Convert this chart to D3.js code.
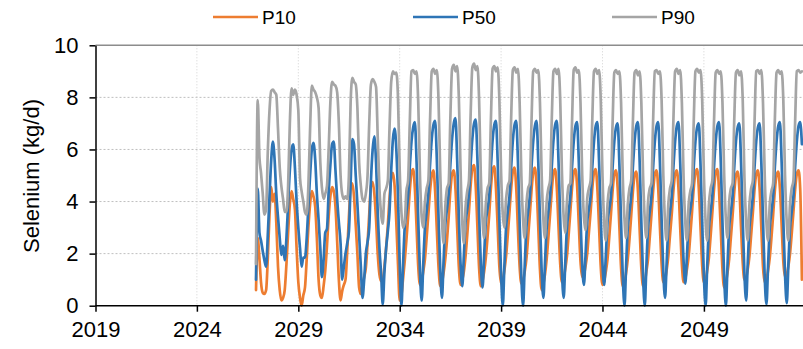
<!DOCTYPE html>
<html><head><meta charset="utf-8">
<script src="https://cdn.jsdelivr.net/npm/d3@7"></script>
<style>
body{margin:0;background:#fff}
svg{display:block}
text{font-family:"Liberation Sans",Arial,sans-serif;fill:#000}
</style>
</head><body>
<svg id="chart" width="803" height="349"></svg>
<script>
// ---- data (monthly, first value = Dec 2026) ----
const seriesNames = ["P10", "P50", "P90"];
const startYear = 2026, startMonth = 11;
const p10 = [
  0.6,
  2.6, 1.8, 0.9, 0.5, 0.45, 0.6, 1.8, 3.5, 4.55, 4.0, 4.3, 3.2,
  1.5, 0.6, 0.2, 0.3, 0.6, 1.6, 2.8, 3.9, 4.4, 4.1, 3.7, 2.2,
  0.9, 0.3, 0.0, 0.4, 0.7, 1.8, 3.0, 3.9, 4.4, 4.2, 3.8, 2.6,
  1.0, 0.4, 0.3, 0.75, 1.35, 2.3, 3.4, 4.2, 4.55, 4.4, 3.8, 2.5,
  1.0, 0.2, 0.55, 0.8, 1.0, 2.1, 3.4, 4.5, 4.7, 4.2, 3.1, 2.0,
  0.7, 0.45, 0.8, 1.1, 1.45, 2.4, 3.5, 4.6, 4.75, 4.3, 3.3, 2.0,
  1.2, 0.95, 1.0, 1.5, 2.2, 3.1, 4.1, 4.9, 5.1, 4.6, 3.2, 1.6,
  0.2, 0.4, 1.0, 1.7, 2.5, 3.4, 4.4, 5.1, 5.25, 4.5, 3.0, 1.5,
  0.8, 0.95, 1.3, 1.8, 2.6, 3.5, 4.4, 5.0, 5.2, 4.4, 2.9, 1.5,
  0.75, 0.9, 1.25, 1.8, 2.5, 3.4, 4.4, 5.05, 5.2, 4.5, 3.0, 1.5,
  0.8, 1.0, 1.3, 1.9, 2.7, 3.6, 4.6, 5.25, 5.4, 4.6, 3.0, 1.45,
  0.75, 0.95, 1.3, 1.85, 2.6, 3.5, 4.5, 5.2, 5.35, 4.5, 3.0, 1.5,
  0.85, 1.0, 1.35, 1.9, 2.7, 3.6, 4.5, 5.15, 5.3, 4.5, 2.9, 1.5,
  0.85, 1.0, 1.3, 1.8, 2.6, 3.5, 4.4, 5.1, 5.3, 4.6, 3.0, 1.4,
  0.6, 0.85, 1.2, 1.8, 2.6, 3.5, 4.4, 5.1, 5.25, 4.5, 3.0, 1.6,
  0.9, 1.05, 1.4, 1.9, 2.7, 3.6, 4.5, 5.1, 5.25, 4.6, 3.1, 1.7,
  1.1, 1.2, 1.5, 2.0, 2.8, 3.6, 4.5, 5.1, 5.25, 4.5, 3.0, 1.5,
  0.8, 0.95, 1.3, 1.8, 2.6, 3.5, 4.4, 5.05, 5.2, 4.5, 3.0, 1.45,
  0.75, 0.9, 1.25, 1.8, 2.55, 3.45, 4.35, 5.0, 5.15, 4.4, 2.9, 1.45,
  0.75, 0.9, 1.3, 1.8, 2.6, 3.5, 4.4, 5.05, 5.2, 4.5, 3.0, 1.6,
  0.9, 1.0, 1.35, 1.9, 2.7, 3.5, 4.4, 5.05, 5.2, 4.5, 3.0, 1.6,
  0.9, 1.05, 1.4, 1.9, 2.7, 3.6, 4.5, 5.1, 5.25, 4.5, 3.0, 1.55,
  0.9, 1.0, 1.35, 1.85, 2.65, 3.55, 4.45, 5.1, 5.25, 4.4, 2.9, 1.4,
  0.7, 0.9, 1.25, 1.8, 2.6, 3.45, 4.35, 5.0, 5.15, 4.5, 3.0, 1.65,
  1.0, 1.1, 1.4, 1.9, 2.7, 3.55, 4.45, 5.05, 5.2, 4.5, 3.0, 1.5,
  0.9, 1.0, 1.35, 1.85, 2.6, 3.5, 4.4, 5.0, 5.15, 4.5, 3.1, 1.7,
  1.1, 1.2, 1.5, 2.0, 2.75, 3.6, 4.45, 5.05, 5.2, 4.5, 1.0
];
const p50 = [
  1.0,
  4.5, 2.8, 2.5, 2.1, 1.75, 1.5, 2.7, 4.2, 5.6, 6.3, 5.6, 4.3,
  3.4, 2.6, 1.95, 2.3, 1.75, 2.6, 3.9, 5.2, 6.0, 6.2, 5.3, 4.0,
  3.0, 2.2, 1.5, 1.85, 1.85, 2.6, 3.8, 5.0, 6.0, 6.25, 5.6, 4.3,
  3.3, 2.2, 1.1, 1.75, 2.8, 2.95, 4.35, 5.4, 6.2, 6.3, 5.2, 4.1,
  3.2, 2.4, 1.0, 1.5, 2.0, 2.4, 2.85, 4.7, 6.4, 6.2, 5.0, 3.9,
  2.7, 1.5, 0.3, 1.0, 2.0, 2.45, 3.0, 4.8, 6.0, 6.5, 5.5, 3.6,
  2.2, 1.2, 0.05, 1.3, 2.2, 2.85, 3.6, 5.2, 6.4, 6.8, 6.0, 4.2,
  1.6, 0.0, 1.5, 3.0, 3.6, 4.2, 5.3, 6.3, 6.85, 7.05, 5.5, 3.3,
  1.3, 0.2, 1.6, 3.0, 3.6, 4.3, 5.4, 6.4, 6.95, 7.1, 5.6, 3.4,
  1.4, 0.3, 1.7, 3.1, 3.7, 4.3, 5.4, 6.4, 7.0, 7.2, 5.6, 3.4,
  1.6, 0.75, 1.9, 3.2, 3.7, 4.3, 5.4, 6.4, 7.0, 7.15, 5.6, 3.5,
  1.6, 0.7, 1.9, 3.2, 3.7, 4.2, 5.3, 6.35, 6.95, 7.1, 5.5, 3.3,
  1.2, 0.0, 1.5, 3.0, 3.6, 4.2, 5.3, 6.35, 6.95, 7.1, 5.5, 3.2,
  1.1, 0.0, 1.5, 3.0, 3.6, 4.2, 5.3, 6.3, 6.9, 7.1, 5.5, 3.3,
  1.3, 0.3, 1.6, 3.0, 3.6, 4.2, 5.3, 6.35, 6.95, 7.1, 5.5, 3.3,
  1.3, 0.3, 1.6, 3.0, 3.6, 4.2, 5.3, 6.3, 6.9, 7.05, 5.5, 3.4,
  1.6, 0.8, 1.9, 3.2, 3.7, 4.2, 5.3, 6.3, 6.9, 7.05, 5.5, 3.4,
  1.6, 0.8, 1.9, 3.2, 3.7, 4.2, 5.3, 6.3, 6.85, 7.0, 5.4, 3.2,
  1.1, 0.0, 1.5, 3.0, 3.6, 4.2, 5.3, 6.3, 6.9, 7.05, 5.5, 3.2,
  1.1, 0.0, 1.5, 3.0, 3.6, 4.2, 5.3, 6.3, 6.9, 7.05, 5.5, 3.3,
  1.3, 0.3, 1.6, 3.0, 3.6, 4.2, 5.3, 6.3, 6.9, 7.05, 5.5, 3.4,
  1.7, 0.85, 1.9, 3.2, 3.7, 4.2, 5.3, 6.3, 6.85, 7.0, 5.4, 3.2,
  1.1, 0.0, 1.5, 3.0, 3.6, 4.2, 5.3, 6.3, 6.9, 7.05, 5.5, 3.2,
  1.1, 0.0, 1.5, 3.0, 3.6, 4.2, 5.3, 6.3, 6.85, 7.0, 5.5, 3.3,
  1.2, 0.2, 1.6, 3.0, 3.6, 4.2, 5.3, 6.3, 6.85, 7.0, 5.5, 3.3,
  1.1, 0.05, 1.5, 3.0, 3.6, 4.2, 5.3, 6.3, 6.9, 7.05, 5.5, 3.3,
  1.2, 0.1, 1.5, 3.0, 3.6, 4.2, 5.3, 6.3, 6.9, 7.05, 6.2
];
const p90 = [
  1.6,
  7.9, 5.7, 5.1, 4.3, 3.5, 3.7, 5.9, 7.5, 8.25, 8.3, 8.2, 8.1,
  6.8, 5.3, 4.6, 4.1, 3.6, 3.6, 4.6, 7.0, 8.35, 8.1, 8.3, 8.1,
  7.5, 4.9, 4.4, 4.0, 3.6, 3.5, 4.6, 6.8, 8.45, 8.3, 8.2, 8.0,
  7.6, 5.5, 4.55, 4.1, 4.3, 4.6, 6.0, 7.8, 8.6, 8.5, 8.45, 8.2,
  7.0, 5.0, 4.3, 4.1, 4.2, 4.1, 5.0, 7.8, 8.75, 8.6, 8.5, 7.6,
  5.5, 4.6, 4.1, 4.0, 4.3, 5.0, 7.0, 8.5, 8.7, 8.6, 8.4, 6.5,
  4.5, 3.5, 3.15, 4.3, 4.5, 4.8, 6.8, 8.6, 9.0, 8.9, 8.95, 8.0,
  5.2, 3.6, 3.0, 3.2, 4.4, 4.8, 7.0, 9.0, 9.05, 8.9, 9.0, 7.8,
  5.0, 3.4, 3.0, 4.0, 4.5, 4.8, 7.1, 9.0, 9.1, 8.9, 9.05, 7.9,
  5.1, 3.3, 2.4, 3.8, 4.5, 4.7, 7.2, 9.1, 9.25, 9.0, 9.2, 8.0,
  5.2, 3.2, 2.4, 3.8, 4.4, 4.8, 7.3, 9.15, 9.3, 9.05, 9.2, 7.9,
  5.0, 3.3, 2.6, 3.9, 4.5, 4.7, 7.1, 9.1, 9.2, 9.0, 9.15, 7.9,
  5.1, 3.5, 3.0, 4.1, 4.6, 4.8, 7.2, 9.05, 9.15, 8.95, 9.1, 7.8,
  5.0, 3.3, 2.6, 3.9, 4.5, 4.7, 7.0, 9.0, 9.1, 8.95, 9.05, 7.8,
  5.0, 3.3, 2.6, 4.0, 4.5, 4.8, 7.1, 9.0, 9.1, 8.9, 9.1, 7.9,
  5.1, 3.4, 2.8, 4.0, 4.6, 4.7, 7.0, 9.05, 9.15, 8.95, 9.05, 7.8,
  5.0, 3.4, 2.9, 4.1, 4.5, 4.8, 7.1, 9.0, 9.1, 8.9, 9.05, 7.9,
  5.0, 3.2, 2.5, 3.9, 4.5, 4.7, 7.0, 8.95, 9.05, 8.9, 9.0, 7.8,
  4.9, 3.3, 2.6, 3.9, 4.5, 4.8, 7.0, 8.95, 9.05, 8.85, 9.0, 7.8,
  5.0, 3.3, 2.6, 4.0, 4.5, 4.7, 7.1, 9.0, 9.05, 8.9, 9.0, 7.9,
  5.0, 3.2, 2.5, 3.9, 4.5, 4.8, 7.1, 9.0, 9.1, 8.9, 9.05, 7.8,
  4.9, 3.2, 2.5, 3.9, 4.4, 4.7, 7.0, 9.0, 9.1, 8.95, 9.05, 7.9,
  5.0, 3.2, 2.5, 3.9, 4.5, 4.8, 7.0, 8.95, 9.05, 8.9, 9.0, 7.8,
  5.0, 3.3, 2.6, 4.0, 4.5, 4.7, 7.1, 8.95, 9.05, 8.85, 9.0, 7.9,
  4.9, 3.2, 2.5, 3.9, 4.5, 4.8, 7.0, 9.0, 9.05, 8.9, 9.05, 7.8,
  5.0, 3.2, 2.5, 3.9, 4.4, 4.7, 7.1, 8.95, 9.05, 8.9, 9.0, 7.9,
  5.0, 3.2, 2.5, 3.9, 4.5, 4.8, 7.0, 9.0, 9.05, 8.95, 9.0
];
const xTickYears = [2019, 2024, 2029, 2034, 2039, 2044, 2049];
const xDomainYears = [2019, 2054];
const yTicks = [0, 2, 4, 6, 8, 10];
const yTitle = "Selenium (kg/d)";

// ---- layout / style ----
const colors = {P10: "#ED7D31", P50: "#2E75B6", P90: "#A5A5A5"};
const plotL = 95.5, plotR = 805.3, plotT = 45.3, plotB = 305.7;

const svg = d3.select("#chart");
const x = d3.scaleTime()
  .domain(xDomainYears.map(yr => new Date(yr, 0, 1)))
  .range([plotL, plotR]);
const y = d3.scaleLinear().domain([0, 10]).range([plotB, plotT]);

const series = [p10, p50, p90].map((vals, k) => ({
  name: seriesNames[k],
  points: vals.map((v, i) => ({date: new Date(startYear, startMonth + i, 1), v}))
}));

// gridlines
svg.append("g").selectAll("line").data(yTicks.filter(t => t > 0 && t < 10)).join("line")
  .attr("x1", plotL).attr("x2", 803).attr("y1", d => y(d)).attr("y2", d => y(d))
  .attr("stroke", "#BFBFBF").attr("stroke-width", 1).attr("stroke-dasharray", "2,2");
svg.append("g").selectAll("line").data(xTickYears.slice(1)).join("line")
  .attr("x1", d => x(new Date(d, 0, 1))).attr("x2", d => x(new Date(d, 0, 1)))
  .attr("y1", plotT).attr("y2", plotB)
  .attr("stroke", "#D0D0D0").attr("stroke-width", 1).attr("stroke-dasharray", "1,2");
// top line
svg.append("line").attr("x1", plotL).attr("x2", 803).attr("y1", y(10)).attr("y2", y(10))
  .attr("stroke", "#8C8C8C").attr("stroke-width", 1.5);

// lines
svg.append("clipPath").attr("id", "clip").append("rect")
  .attr("x", plotL).attr("y", 0).attr("width", plotR - plotL).attr("height", 349);
const line = d3.line().x(d => x(d.date)).y(d => y(d.v)).curve(d3.curveMonotoneX);
svg.append("g").attr("clip-path", "url(#clip)").selectAll("path").data(series).join("path")
  .attr("d", d => line(d.points))
  .attr("fill", "none").attr("stroke", d => colors[d.name])
  .attr("stroke-width", 2.7).attr("stroke-linejoin", "round").attr("stroke-linecap", "round");

// axes
const xAxis = d3.axisBottom(x)
  .tickValues(xTickYears.map(yr => new Date(yr, 0, 1)))
  .tickFormat(d3.timeFormat("%Y")).tickSize(6).tickSizeOuter(0).tickPadding(10);
const gx = svg.append("g").attr("transform", `translate(0,${plotB})`).call(xAxis);
const yAxis = d3.axisLeft(y).tickValues(yTicks).tickSize(6).tickSizeOuter(0).tickPadding(11);
const gy = svg.append("g").attr("transform", `translate(${plotL},0)`).call(yAxis);
[gx, gy].forEach(g => {
  g.select(".domain").attr("stroke", "#000").attr("stroke-width", 1.5);
  g.selectAll(".tick line").attr("stroke", "#000").attr("stroke-width", 1.5);
  g.selectAll(".tick text").attr("font-size", 22).attr("fill", "#000")
    .style("font-family", "'Liberation Sans', Arial, sans-serif");
});
gx.select(".domain").attr("d", `M${plotL},0H803`);

// y title
svg.append("text").attr("transform", "translate(31,176) rotate(-90)")
  .attr("text-anchor", "middle").attr("dominant-baseline", "central")
  .attr("font-size", 22).text(yTitle);

// legend
const legendX = [213, 413, 612];
const lg = svg.append("g").selectAll("g").data(seriesNames).join("g")
  .attr("transform", (d, i) => `translate(${legendX[i]},17)`);
lg.append("line").attr("x1", 0).attr("x2", 45).attr("y1", 0).attr("y2", 0)
  .attr("stroke", d => colors[d]).attr("stroke-width", 2.5);
lg.append("text").attr("x", 49).attr("y", 7).attr("font-size", 19).text(d => d);
</script>
</body></html>
